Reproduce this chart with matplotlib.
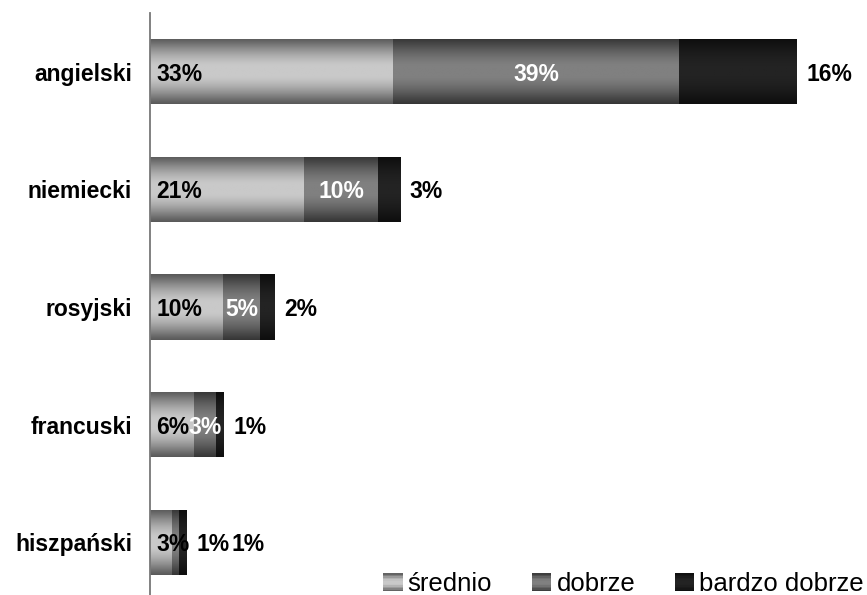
import numpy as np
import matplotlib
matplotlib.use("Agg")
import matplotlib.pyplot as plt
from matplotlib.colors import LinearSegmentedColormap
from matplotlib.patches import Rectangle
from matplotlib.legend_handler import HandlerBase

plt.rcParams['font.family'] = ['Liberation Sans', 'DejaVu Sans']

# Data: share of respondents by language and proficiency level (%)
languages = ["angielski", "niemiecki", "rosyjski", "francuski", "hiszpański"]
levels = ["średnio", "dobrze", "bardzo dobrze"]
srednio = [33, 21, 10, 6, 3]
dobrze = [39, 10, 5, 3, 1]
bardzo_dobrze = [16, 3, 2, 1, 1]
series = [srednio, dobrze, bardzo_dobrze]

# Shaded fills: (edge colour, centre colour) for each level
shades = [("#595959", "#c9c9c9"), ("#363636", "#808080"), ("#0e0e0e", "#232323")]
cmaps = [LinearSegmentedColormap.from_list(f"lvl{i}", [e, c]) for i, (e, c) in enumerate(shades)]

# vertical profile: dark at top/bottom edges, light in the middle
t = np.linspace(0, 1, 128)
profile = np.clip(np.sin(np.pi * t) ** 1.1 * 1.04, 0, 1)[:, None]

fig = plt.figure(figsize=(8.67, 5.95), dpi=100)
ax = fig.add_axes([150 / 867, -6 / 595, 710 / 867, 588 / 595])

y = np.arange(len(languages))
bar_h = 0.553
left = np.zeros(len(languages))
for vals, cmap in zip(series, cmaps):
    bars = ax.barh(y, vals, left=left, height=bar_h, facecolor="none", edgecolor="none")
    for rect in bars:
        x0, y0 = rect.get_x(), rect.get_y()
        w, h = rect.get_width(), rect.get_height()
        im = ax.imshow(profile, cmap=cmap, vmin=0, vmax=1, aspect="auto",
                       extent=(x0, x0 + w, y0 + h, y0), interpolation="bilinear", zorder=1)
        im.set_clip_path(rect)
    left = left + np.array(vals)

ax.set_xlim(0, 96.6)
ax.set_ylim(len(languages) - 0.5, -0.5)

for s in ["top", "right", "bottom"]:
    ax.spines[s].set_visible(False)
ax.spines["left"].set_color("#777777")
ax.spines["left"].set_linewidth(1.3)
ax.set_xticks([])
ax.set_yticks(y)
ax.set_yticklabels(languages, fontsize=16.5, fontweight="bold")
ax.tick_params(axis="y", length=0, pad=13)

lab_kw = dict(fontsize=16.5, fontweight="bold", va="center_baseline", textcoords="offset points")
for i in range(len(languages)):
    a, b, c = srednio[i], dobrze[i], bardzo_dobrze[i]
    total = a + b + c
    ax.annotate(f"{a}%", (0, i), xytext=(4.5, 0), ha="left", color="black", **lab_kw)
    if b >= 3:
        ax.annotate(f"{b}%", (a + b / 2, i), xytext=(0, 0), ha="center", color="white", **lab_kw)
        ax.annotate(f"{c}%", (total, i), xytext=(7, 0), ha="left", color="black", **lab_kw)
    else:
        ax.annotate(f"{b}%", (total, i), xytext=(7, 0), ha="left", color="black", **lab_kw)
        ax.annotate(f"{c}%", (total, i), xytext=(32, 0), ha="left", color="black", **lab_kw)


class GradientKey:
    def __init__(self, cmap):
        self.cmap = cmap


class GradientHandler(HandlerBase):
    def create_artists(self, legend, orig_handle, xdescent, ydescent, width, height, fontsize, trans):
        n = 12
        arts = []
        for k in range(n):
            v = profile[int((k + 0.5) / n * len(profile)), 0]
            arts.append(Rectangle((-xdescent, -ydescent + height * k / n), width, height / n + 0.3,
                                  facecolor=orig_handle.cmap(v), edgecolor="none", transform=trans))
        return arts


handles = [GradientKey(c) for c in cmaps]
fig.legend(handles, levels, handler_map={GradientKey: GradientHandler()},
           loc="center right", bbox_to_anchor=(864 / 867, 11 / 595), ncol=3, frameon=False,
           prop={"size": 18.5}, handlelength=0.75, handleheight=0.7, handletextpad=0.2,
           columnspacing=1.55, borderpad=0, borderaxespad=0)

fig.savefig("out.png", dpi=100)
